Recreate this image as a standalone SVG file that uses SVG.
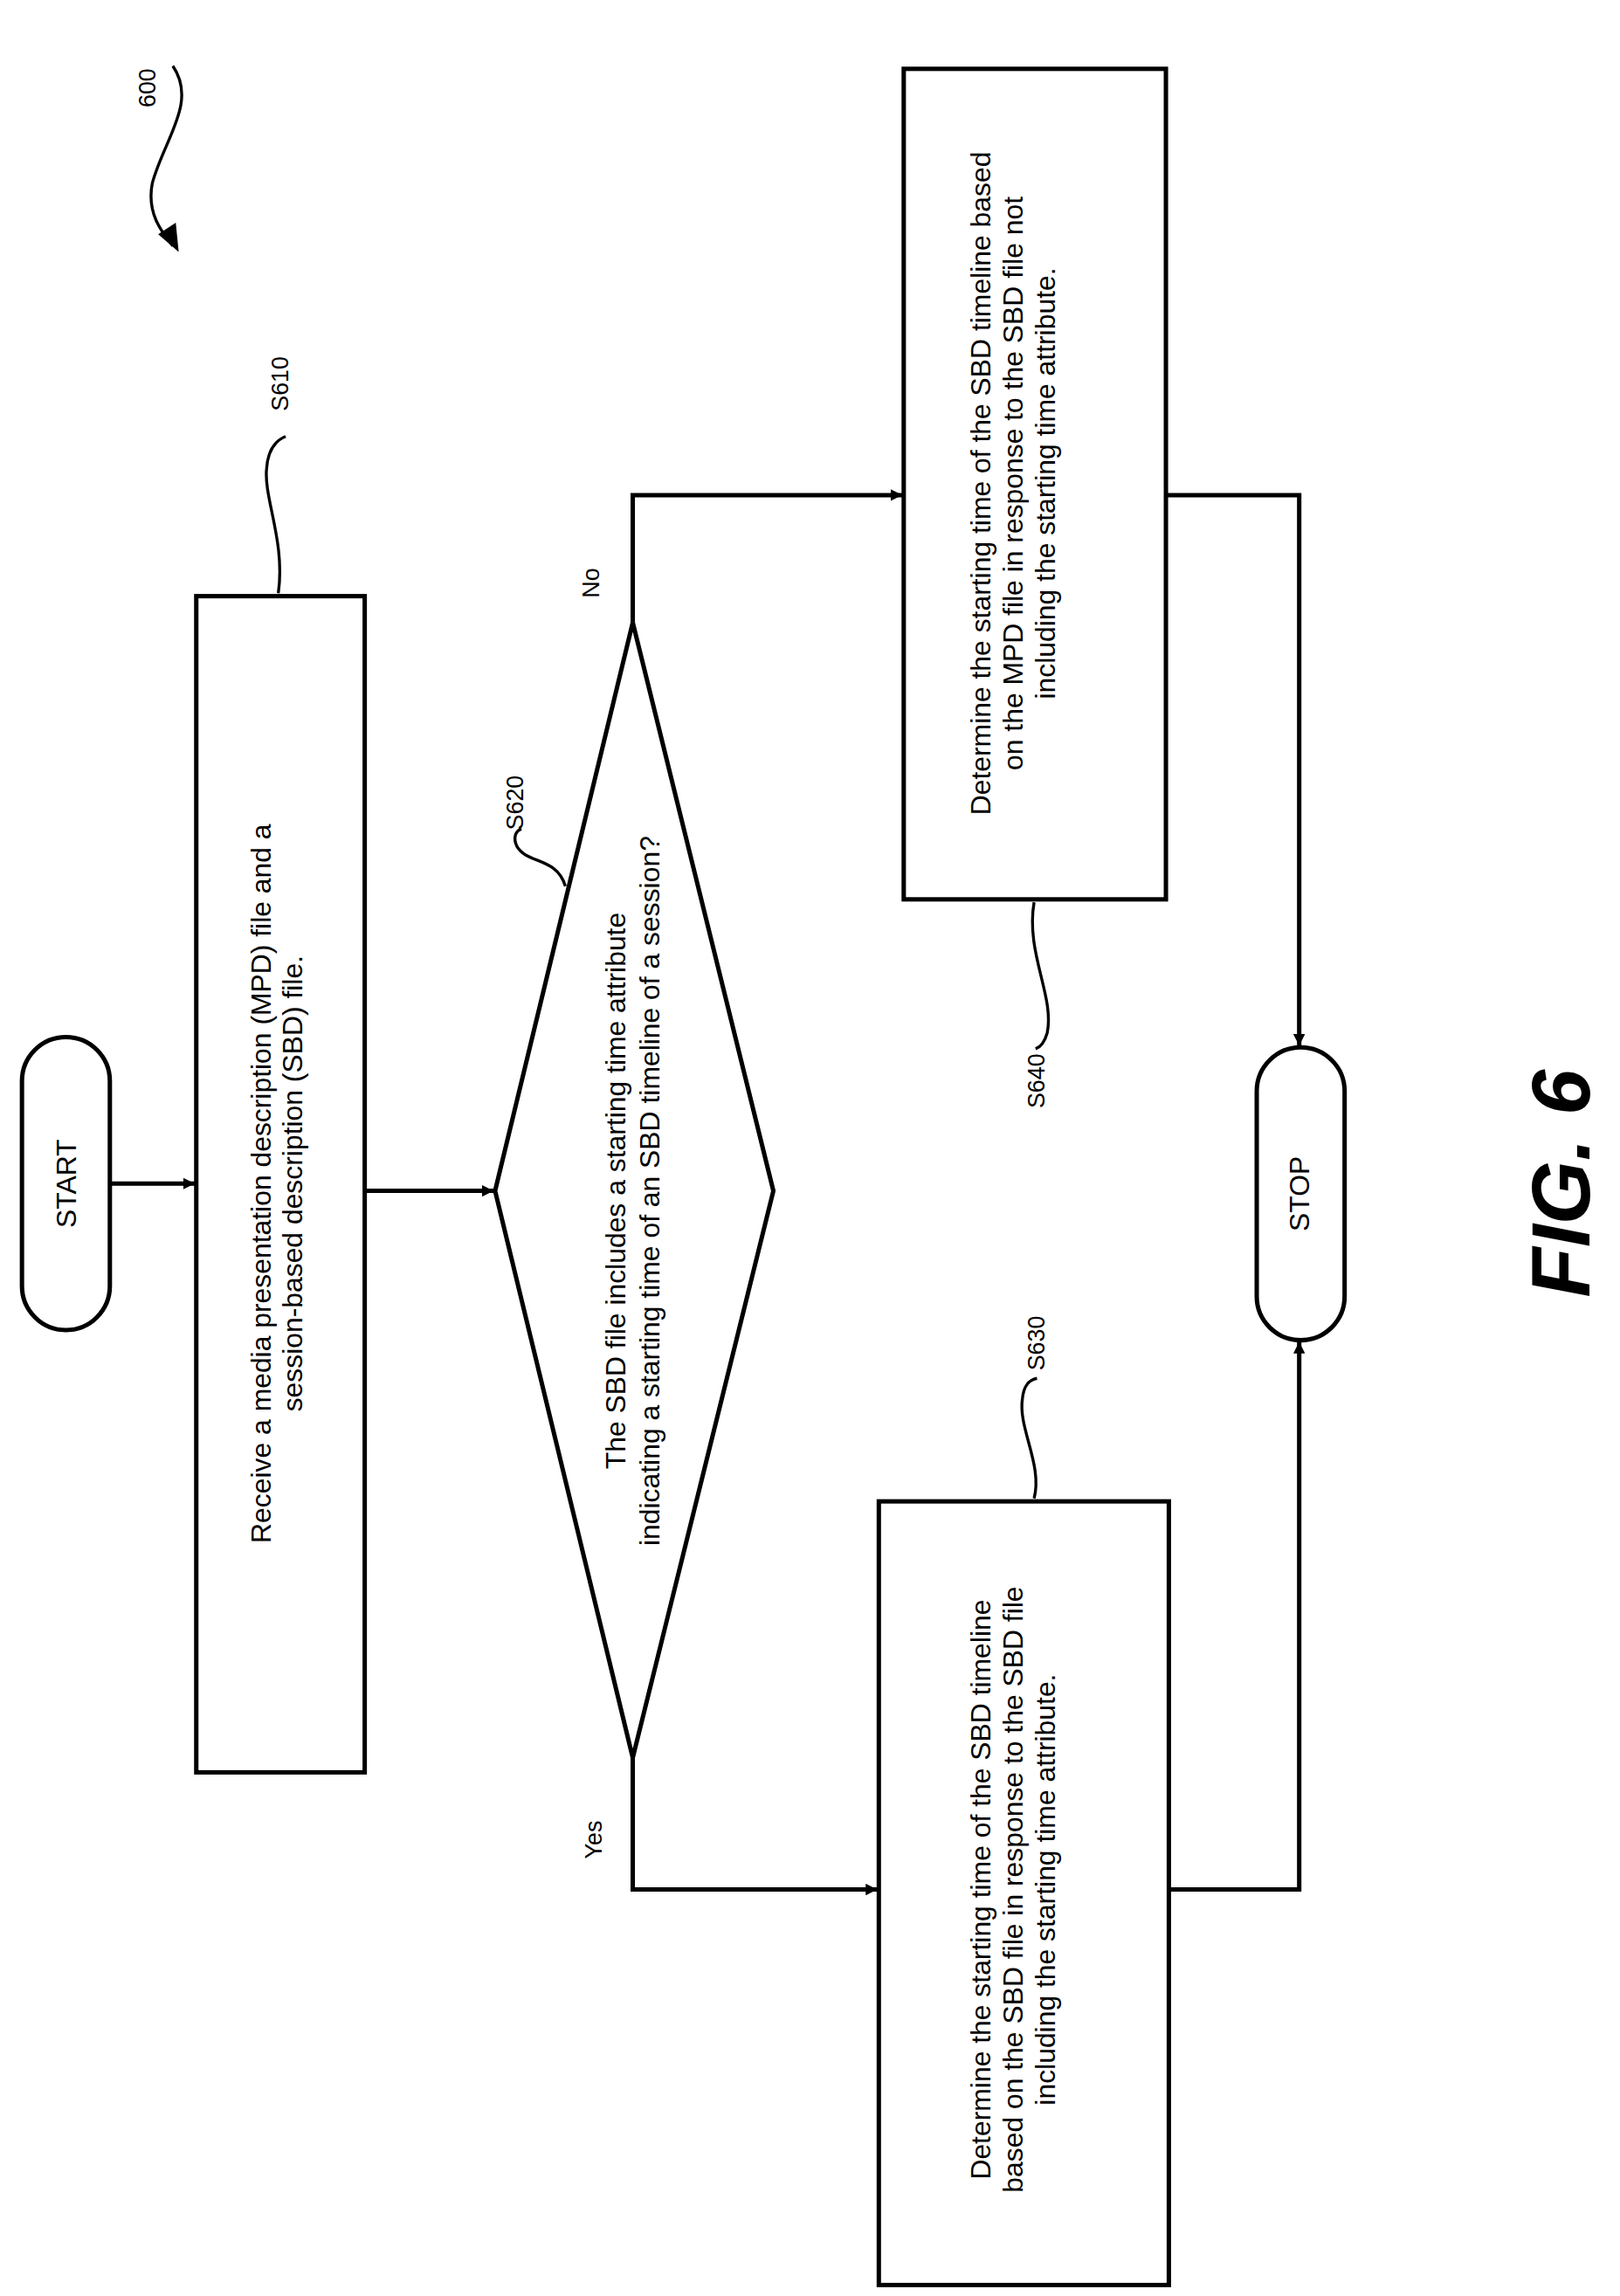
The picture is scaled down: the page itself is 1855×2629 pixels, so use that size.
<svg xmlns="http://www.w3.org/2000/svg" width="1855" height="2629" viewBox="0 0 1855 2629">
<style>
.s{fill:#fff;stroke:#000;stroke-width:3}
.c{fill:none;stroke:#000;stroke-width:3}
.q{fill:none;stroke:#000;stroke-width:2}
.t{font-family:"Liberation Sans",Arial,sans-serif;font-size:19px;text-anchor:middle;fill:#000}
.l{font-family:"Liberation Sans",Arial,sans-serif;font-size:16px;text-anchor:middle;fill:#000}
.f{font-family:"Liberation Sans",Arial,sans-serif;font-size:56px;font-weight:bold;font-style:italic;text-anchor:middle;fill:#000}
</style>
<defs>
<marker id="a" viewBox="0 0 10 10" refX="10" refY="5" markerWidth="8" markerHeight="8" markerUnits="userSpaceOnUse" orient="auto"><path d="M0,0 L10,5 L0,10 z" fill="#000"/></marker>
</defs>
<rect width="1855" height="2629" fill="#fff"/>
<g transform="scale(1.6772)">
<g id="ref600">
<text class="l" transform="translate(106,60) rotate(-90)">600</text>
<path class="q" d="M118,45 C135,70 112,95 104,125 C100,145 110,158 118,168"/>
<path d="M122,172 L108,160 L120,152 z" fill="#000"/>
</g>
<g id="start">
<rect class="s" x="15" y="708" width="60" height="200" rx="30" ry="30"/>
<text class="t" transform="translate(52,808) rotate(-90)">START</text>
</g>
<g id="s610">
<rect class="s" x="134" y="407" width="115" height="803"/>
<text class="t" transform="translate(185,808) rotate(-90)">Receive a media presentation description (MPD) file and a</text>
<text class="t" transform="translate(206,808) rotate(-90)">session-based description (SBD) file.</text>
<text class="l" transform="translate(197,262) rotate(-90)">S610</text>
<path class="q" d="M190,405 C195,370 180,340 182,320 C183,305 190,300 195,298"/>
</g>
<g id="s620">
<polygon class="s" points="338,813 432,425 528,813 432,1200"/>
<text class="t" transform="translate(427,813) rotate(-90)">The SBD file includes a starting time attribute</text>
<text class="t" transform="translate(450,813) rotate(-90)">indicating a starting time of an SBD timeline of a session?</text>
<text class="l" transform="translate(357,548) rotate(-90)">S620</text>
<path class="q" d="M386,605 C380,585 360,590 353,578 C350,572 352,567 356,566"/>
</g>
<g id="s640">
<rect class="s" x="617" y="47" width="179" height="567"/>
<text class="t" transform="translate(676,330) rotate(-90)">Determine the starting time of the SBD timeline based</text>
<text class="t" transform="translate(698,330) rotate(-90)">on the MPD file in response to the SBD file not</text>
<text class="t" transform="translate(720,330) rotate(-90)">including the starting time attribute.</text>
<text class="l" transform="translate(713,738) rotate(-90)">S640</text>
<path class="q" d="M706,616 C700,650 720,680 715,705 C713,712 710,715 707,716"/>
</g>
<g id="s630">
<rect class="s" x="600" y="1025" width="198" height="535"/>
<text class="t" transform="translate(676,1290) rotate(-90)">Determine the starting time of the SBD timeline</text>
<text class="t" transform="translate(698,1290) rotate(-90)">based on the SBD file in response to the SBD file</text>
<text class="t" transform="translate(720,1290) rotate(-90)">including the starting time attribute.</text>
<text class="l" transform="translate(713,917) rotate(-90)">S630</text>
<path class="q" d="M706,1023 C712,1000 695,975 698,955 C699,945 703,942 708,941"/>
</g>
<g id="stop">
<rect class="s" x="858" y="715" width="60" height="200" rx="30" ry="30"/>
<text class="t" transform="translate(894,815) rotate(-90)">STOP</text>
</g>
<g id="connectors">
<path class="c" d="M75,808 H133" marker-end="url(#a)"/>
<path class="c" d="M249,813 H337" marker-end="url(#a)"/>
<path class="c" d="M432,425 V338 H616" marker-end="url(#a)"/>
<path class="c" d="M432,1200 V1290 H599" marker-end="url(#a)"/>
<path class="c" d="M796,338 H887 V714" marker-end="url(#a)"/>
<path class="c" d="M798,1290 H887 V916" marker-end="url(#a)"/>
<text class="l" transform="translate(409,398) rotate(-90)">No</text>
<text class="l" transform="translate(411,1256) rotate(-90)">Yes</text>
</g>
<text class="f" transform="translate(1085,808) rotate(-90)">FIG. 6</text>
</g>
</svg>
